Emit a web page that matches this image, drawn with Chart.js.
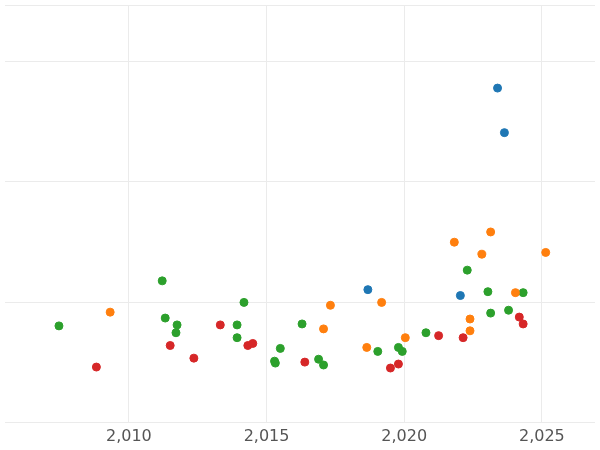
<!DOCTYPE html>
<html>
<head>
<meta charset="utf-8">
<script src="https://cdn.jsdelivr.net/npm/chart.js@4"></script>
<style>body{margin:0;background:#fff}#wrap{width:600px;height:450px}</style>
</head>
<body>
<div id="wrap"><canvas id="c"></canvas></div>
<script>
const blueX = [2023.39, 2023.64, 2018.68, 2022.04];
const blueY = [2.78, 2.41, 1.106, 1.057];
const orangeX = [2009.32, 2017.32, 2017.07, 2019.18, 2018.64, 2020.04, 2021.82, 2023.14, 2022.82, 2025.14, 2024.04, 2022.39, 2022.39];
const orangeY = [0.919, 0.976, 0.78, 1.0, 0.626, 0.707, 1.50, 1.585, 1.40, 1.415, 1.081, 0.862, 0.764];
const greenX = [2007.46, 2011.21, 2011.32, 2011.75, 2011.71, 2013.93, 2013.93, 2014.18, 2015.5, 2015.29, 2015.32, 2016.29, 2016.89, 2017.07, 2019.04, 2019.79, 2019.93, 2020.79, 2022.29, 2023.04, 2023.14, 2023.79, 2024.32];
const greenY = [0.805, 1.179, 0.870, 0.813, 0.748, 0.813, 0.707, 1.0, 0.618, 0.512, 0.496, 0.821, 0.528, 0.48, 0.593, 0.626, 0.593, 0.748, 1.268, 1.089, 0.911, 0.935, 1.081];
const redX = [2008.82, 2011.5, 2012.36, 2013.32, 2014.32, 2014.5, 2016.39, 2019.5, 2019.79, 2021.25, 2022.14, 2024.18, 2024.32];
const redY = [0.463, 0.642, 0.537, 0.813, 0.642, 0.659, 0.504, 0.455, 0.488, 0.724, 0.707, 0.878, 0.821];
const xTicks = [2010, 2015, 2020, 2025];

function pts(xs, ys) { return xs.map((x, i) => ({ x: x, y: ys[i] })); }
function series(xs, ys, color) {
    return { data: pts(xs, ys), backgroundColor: color, borderColor: color, pointRadius: 4, pointHoverRadius: 4 };
}

new Chart(document.getElementById('c'), {
    type: 'scatter',
    data: {
        datasets: [
            series(blueX, blueY, '#1f77b4'),
            series(orangeX, orangeY, '#ff7f0e'),
            series(greenX, greenY, '#2ca02c'),
            series(redX, redY, '#d62728')
        ]
    },
    options: {
        responsive: true,
        maintainAspectRatio: false,
        animation: false,
        layout: { padding: 0 },
        plugins: { legend: { display: false }, tooltip: { enabled: false } },
        scales: {
            x: {
                type: 'linear', min: 2005.5, max: 2026.93,
                afterBuildTicks: axis => { axis.ticks = xTicks.map(v => ({ value: v })); },
                ticks: { color: '#555', font: { family: 'DejaVu Sans', size: 16 }, padding: 4 },
                grid: { color: '#ebebeb', drawTicks: false },
                border: { display: false }
            },
            y: {
                min: 0, max: 3.47,
                ticks: { display: false, stepSize: 1 },
                grid: { color: '#ebebeb', drawTicks: false },
                border: { display: false }
            }
        }
    }
});
</script>
</body>
</html>
